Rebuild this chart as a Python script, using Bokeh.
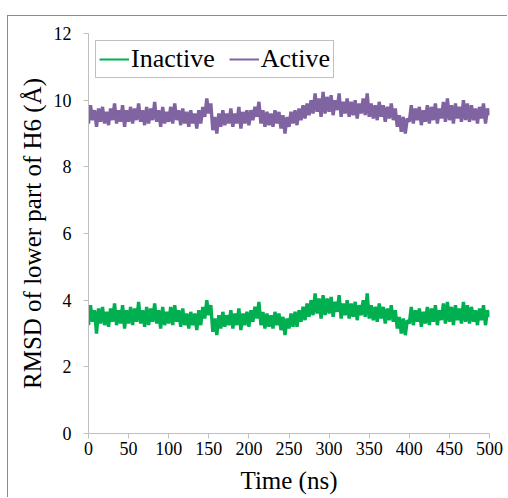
from bokeh.plotting import figure
from bokeh.models import Range1d, FixedTicker, Legend, LegendItem
from bokeh.embed import file_html
from bokeh.resources import INLINE

active = [
    9.3, 9.85, 9.4, 9.7, 9.2, 9.75, 9.35, 9.8, 9.3, 9.65,
    9.25, 9.75, 9.4, 9.9, 9.3, 9.7, 9.35, 9.85, 9.2, 9.7,
    9.35, 9.8, 9.3, 9.75, 9.4, 9.9, 9.35, 9.7, 9.25, 9.8,
    9.3, 9.75, 9.4, 9.95, 9.35, 9.7, 9.2, 9.8, 9.3, 9.65,
    9.35, 9.8, 9.3, 9.9, 9.4, 9.7, 9.25, 9.75, 9.3, 9.65,
    9.2, 9.7, 9.3, 9.6, 9.15, 9.7, 9.3, 9.8, 9.5, 10.05,
    9.6, 9.9, 9.1, 9.5, 9.0, 9.6, 9.2, 9.7, 9.25, 9.6,
    9.3, 9.75, 9.2, 9.6, 9.3, 9.8, 9.15, 9.65, 9.3, 9.7,
    9.25, 9.7, 9.4, 9.8, 9.5, 9.95, 9.3, 9.7, 9.2, 9.65,
    9.25, 9.6, 9.2, 9.7, 9.3, 9.65, 9.15, 9.55, 9.0, 9.5,
    9.2, 9.65, 9.3, 9.7, 9.25, 9.75, 9.4, 9.85, 9.45, 9.9,
    9.55, 10.0, 9.6, 10.2, 9.65, 10.05, 9.5, 10.25, 9.6, 10.1,
    9.65, 10.15, 9.55, 10.0, 9.7, 10.2, 9.5, 9.95, 9.6, 10.05,
    9.5, 9.95, 9.55, 10.0, 9.45, 9.9, 9.6, 10.05, 9.55, 10.2,
    9.5, 9.9, 9.45, 9.85, 9.4, 9.95, 9.5, 9.85, 9.35, 9.8,
    9.45, 9.9, 9.4, 9.75, 9.2, 9.55, 9.05, 9.5, 9.0, 9.45,
    9.35, 9.85, 9.3, 9.75, 9.4, 9.8, 9.25, 9.7, 9.35, 9.85,
    9.3, 9.8, 9.4, 9.9, 9.3, 9.75, 9.45, 9.95, 9.35, 10.05,
    9.4, 9.85, 9.3, 9.9, 9.45, 9.8, 9.35, 10.0, 9.4, 9.9,
    9.35, 9.85, 9.4, 9.75, 9.3, 9.8, 9.45, 9.9, 9.3, 9.75,
    9.55,
]

inactive = [
    3.25, 3.85, 3.35, 3.7, 3.0, 3.75, 3.3, 3.8, 3.25, 3.65,
    3.2, 3.75, 3.35, 3.9, 3.25, 3.7, 3.3, 3.85, 3.15, 3.7,
    3.3, 3.8, 3.25, 3.75, 3.35, 3.95, 3.3, 3.7, 3.2, 3.8,
    3.25, 3.75, 3.35, 3.9, 3.3, 3.7, 3.15, 3.8, 3.25, 3.65,
    3.3, 3.8, 3.25, 3.85, 3.35, 3.7, 3.2, 3.75, 3.25, 3.6,
    3.15, 3.65, 3.25, 3.6, 3.1, 3.7, 3.25, 3.8, 3.45, 4.0,
    3.55, 3.85, 3.05, 3.45, 2.95, 3.55, 3.15, 3.65, 3.2, 3.55,
    3.25, 3.7, 3.15, 3.6, 3.25, 3.75, 3.1, 3.6, 3.25, 3.65,
    3.2, 3.7, 3.35, 3.8, 3.45, 3.95, 3.25, 3.65, 3.15, 3.6,
    3.2, 3.55, 3.15, 3.65, 3.25, 3.6, 3.1, 3.5, 2.95, 3.45,
    3.15, 3.6, 3.2, 3.65, 3.2, 3.7, 3.35, 3.8, 3.4, 3.9,
    3.5, 4.0, 3.55, 4.2, 3.6, 4.05, 3.45, 4.15, 3.55, 4.05,
    3.6, 4.1, 3.5, 3.95, 3.65, 4.15, 3.45, 3.9, 3.55, 4.0,
    3.45, 3.9, 3.5, 3.95, 3.4, 3.85, 3.55, 4.0, 3.5, 4.2,
    3.45, 3.85, 3.4, 3.8, 3.35, 3.9, 3.45, 3.8, 3.3, 3.75,
    3.4, 3.85, 3.35, 3.7, 3.15, 3.5, 3.0, 3.45, 2.95, 3.4,
    3.3, 3.8, 3.25, 3.7, 3.35, 3.75, 3.2, 3.65, 3.3, 3.8,
    3.25, 3.75, 3.35, 3.85, 3.25, 3.7, 3.4, 3.9, 3.3, 3.95,
    3.35, 3.8, 3.25, 3.85, 3.4, 3.75, 3.3, 3.95, 3.35, 3.85,
    3.3, 3.8, 3.35, 3.7, 3.25, 3.75, 3.4, 3.85, 3.25, 3.7,
    3.5,
]

time_step = 2.5
time_ns = [i * time_step for i in range(len(active))]

x_ticks = [0, 50, 100, 150, 200, 250, 300, 350, 400, 450, 500]
y_ticks = [0, 2, 4, 6, 8, 10, 12]

FONT = "Liberation Serif"
AXIS_GRAY = "#BFBFBF"
GREEN = "#00B050"
PURPLE = "#8064A2"

p = figure(width=500, height=482, output_backend="svg", toolbar_location=None,
           x_range=Range1d(0, 500), y_range=Range1d(0, 12),
           min_border_left=80, min_border_right=19, min_border_top=17, min_border_bottom=65,
           styles={"margin-left": "7px", "margin-top": "15px",
                   "border-left": "1px solid #8C8C8C", "border-top": "1px solid #8C8C8C"})

p.xgrid.visible = False
p.ygrid.visible = False
p.outline_line_color = None

p.line(time_ns, inactive, line_color=GREEN, line_width=3.4)
p.line(time_ns, active, line_color=PURPLE, line_width=3.4)

# thinner proxies for the legend swatches
nan = float("nan")
leg_in = p.line([0], [nan], line_color=GREEN, line_width=2)
leg_ac = p.line([0], [nan], line_color=PURPLE, line_width=2)

for ax in (p.xaxis[0], p.yaxis[0]):
    ax.axis_line_color = AXIS_GRAY
    ax.major_tick_line_color = AXIS_GRAY
    ax.minor_tick_line_color = None
    ax.major_tick_in = 0
    ax.major_tick_out = 5
    ax.major_label_text_font = FONT
    ax.major_label_text_font_size = "18px"
    ax.major_label_text_color = "#000000"
    ax.axis_label_text_font = FONT
    ax.axis_label_text_font_style = "normal"
    ax.axis_label_text_font_size = "25px"
    ax.axis_label_text_color = "#000000"

p.xaxis[0].ticker = FixedTicker(ticks=x_ticks)
p.yaxis[0].ticker = FixedTicker(ticks=y_ticks)
p.xaxis[0].axis_label = "Time (ns)"
p.yaxis[0].axis_label = "RMSD of lower part of H6 (Å)"
p.xaxis[0].major_label_standoff = 3
p.yaxis[0].major_label_standoff = 12
p.xaxis[0].axis_label_standoff = 9
p.yaxis[0].axis_label_standoff = 5

legend = Legend(items=[LegendItem(label="Inactive", renderers=[leg_in]),
                       LegendItem(label="Active", renderers=[leg_ac])],
                orientation="horizontal", location="top_left")
legend.margin = 7
legend.padding = 3
legend.spacing = 14
legend.label_standoff = 2
legend.glyph_width = 30
legend.glyph_height = 20
legend.label_text_font = FONT
legend.label_text_font_size = "26px"
legend.label_text_color = "#000000"
legend.border_line_color = "#808080"
legend.border_line_width = 1
legend.background_fill_alpha = 1
p.add_layout(legend, "center")

open("out.html", "w").write(file_html(p, INLINE))
